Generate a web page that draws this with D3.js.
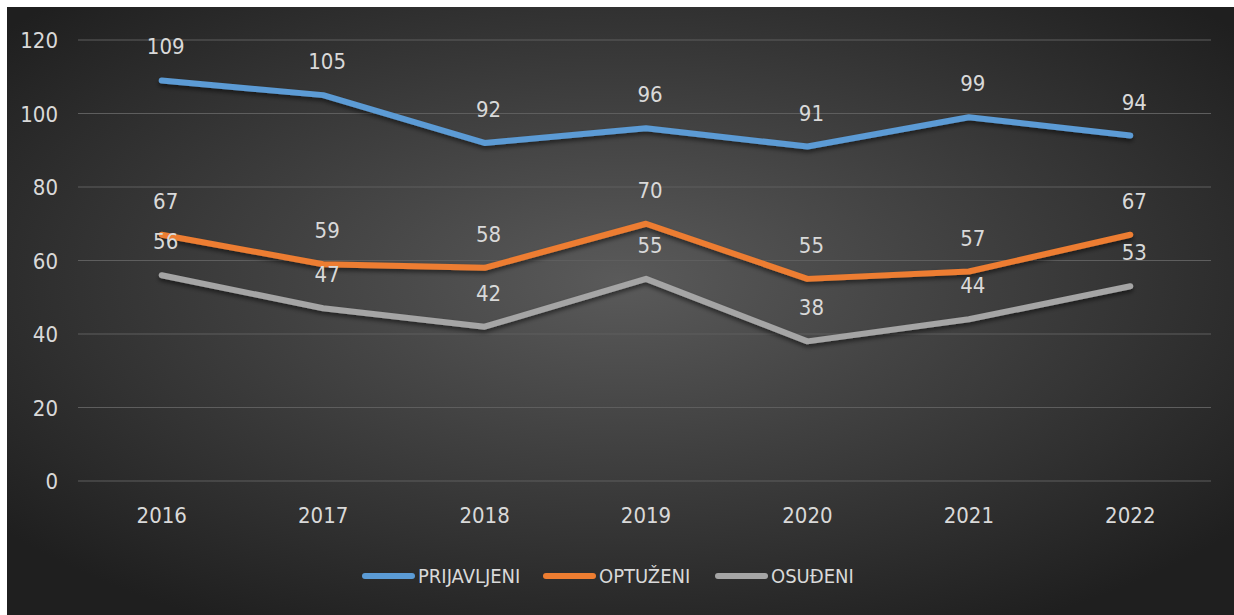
<!DOCTYPE html>
<html>
<head>
<meta charset="utf-8">
<script src="https://cdn.jsdelivr.net/npm/d3@7"></script>
<style>
  body { margin: 0; background: #fff; }
  svg { display: block; }
  text { font-family: "Liberation Sans Narrow", "DejaVu Sans Condensed", sans-serif; }
</style>
</head>
<body>
<div id="chart"></div>
<script>
// chart values
const years = ["2016", "2017", "2018", "2019", "2020", "2021", "2022"];
const prijavljeni = [109, 105, 92, 96, 91, 99, 94];
const optuzeni = [67, 59, 58, 70, 55, 57, 67];
const osudeni = [56, 47, 42, 55, 38, 44, 53];
const yTicks = [0, 20, 40, 60, 80, 100, 120];
const seriesNames = ["PRIJAVLJENI", "OPTUŽENI", "OSUĐENI"];
const seriesColors = ["#5b9bd5", "#ed7d31", "#a5a5a5"];

drawChart();

function drawChart() {
  var W = 1234, H = 615;
  var svg = d3.select("#chart").append("svg")
    .attr("width", W)
    .attr("height", H);

  var defs = svg.append("defs");
  var grad = defs.append("radialGradient")
    .attr("id", "bg")
    .attr("cx", "50%").attr("cy", "45%").attr("r", "65%");
  grad.append("stop").attr("offset", "0%").attr("stop-color", "#5a5a5a");
  grad.append("stop").attr("offset", "100%").attr("stop-color", "#1f1f1f");

  var shadow = defs.append("filter").attr("id", "shadow")
    .attr("x", "-5%").attr("y", "-20%").attr("width", "110%").attr("height", "140%");
  shadow.append("feDropShadow")
    .attr("dx", 0).attr("dy", 3).attr("stdDeviation", 2)
    .attr("flood-color", "#000").attr("flood-opacity", 0.5);

  svg.append("rect")
    .attr("x", 7).attr("y", 7)
    .attr("width", W - 7).attr("height", H - 7)
    .attr("fill", "url(#bg)");

  var x = d3.scaleBand()
    .domain(years)
    .range([81, 1211]);

  var y = d3.scaleLinear()
    .domain([0, 120])
    .range([481, 40]);

  // gridlines
  svg.append("g")
    .selectAll("line")
    .data(yTicks)
    .enter()
    .append("line")
    .attr("x1", 78).attr("x2", 1211)
    .attr("y1", function(d) { return y(d); })
    .attr("y2", function(d) { return y(d); })
    .attr("stroke", "#5e5e5e")
    .attr("stroke-width", 1);

  // Y axis labels
  var yAxis = svg.append("g")
    .attr("transform", "translate(58,0)")
    .call(d3.axisLeft(y).tickValues(yTicks).tickSize(0).tickPadding(0));
  yAxis.select(".domain").remove();
  yAxis.selectAll("text")
    .attr("fill", "#d9d9d9")
    .style("font-size", "22px")
    .attr("dy", "0.35em");

  // X axis labels
  var xAxis = svg.append("g")
    .attr("transform", "translate(0,481)")
    .call(d3.axisBottom(x).tickSize(0).tickPadding(26));
  xAxis.select(".domain").remove();
  xAxis.selectAll("text")
    .attr("fill", "#d9d9d9")
    .style("font-size", "22px");

  var allSeries = [prijavljeni, optuzeni, osudeni];

  var line = d3.line()
    .x(function(d, i) { return x(years[i]) + x.bandwidth() / 2; })
    .y(function(d) { return y(d); });

  allSeries.forEach(function(vals, k) {
    svg.append("path")
      .datum(vals)
      .attr("d", line)
      .attr("fill", "none")
      .attr("stroke", seriesColors[k])
      .attr("stroke-width", 6)
      .attr("stroke-linecap", "round")
      .attr("stroke-linejoin", "round")
      .attr("filter", "url(#shadow)");
  });

  // data labels
  allSeries.forEach(function(vals, k) {
    svg.append("g")
      .selectAll("text")
      .data(vals)
      .enter()
      .append("text")
      .attr("x", function(d, i) { return x(years[i]) + x.bandwidth() / 2 + 4; })
      .attr("y", function(d) { return y(d) - 26; })
      .attr("text-anchor", "middle")
      .attr("fill", "#d9d9d9")
      .style("font-size", "22px")
      .text(function(d) { return d; });
  });

  // legend
  var legendX = [365, 546, 718];
  var legend = svg.append("g");
  seriesNames.forEach(function(name, k) {
    legend.append("line")
      .attr("x1", legendX[k]).attr("x2", legendX[k] + 47)
      .attr("y1", 576).attr("y2", 576)
      .attr("stroke", seriesColors[k])
      .attr("stroke-width", 6)
      .attr("stroke-linecap", "round");
    legend.append("text")
      .attr("x", legendX[k] + 53)
      .attr("y", 576)
      .attr("dy", "0.35em")
      .attr("fill", "#d9d9d9")
      .style("font-size", "20px")
      .text(name);
  });
}
</script>
</body>
</html>
